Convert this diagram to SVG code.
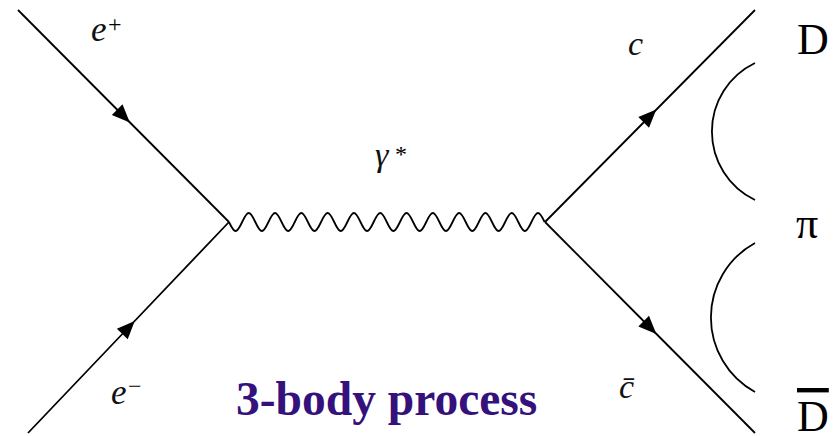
<svg xmlns="http://www.w3.org/2000/svg" width="837" height="436" viewBox="0 0 837 436">
<style>
.ln{fill:none;stroke:#000;stroke-width:1.8}
.it{font-family:"Liberation Serif",serif;font-style:italic;fill:#111}
.rm{font-family:"Liberation Serif",serif;fill:#000}
.title{font-family:"Liberation Serif",serif;font-weight:bold;fill:#35117b}
</style>
<defs>
<marker id="arr" markerUnits="userSpaceOnUse" markerWidth="20" markerHeight="18" viewBox="0 0 20 18" refX="10" refY="9" orient="auto">
<path d="M1,1.5 L19,9 L1,16.5 z" fill="#000"/>
</marker>
</defs>
<rect width="837" height="436" fill="#fff"/>
<g id="connectors">
<path id="e-plus-line" class="ln" d="M18,10 L123.5,116 L229,222" marker-mid="url(#arr)"/>
<path id="e-minus-line" class="ln" d="M28,433 L128.5,327.5 L229,222" marker-mid="url(#arr)"/>
<path id="photon" class="ln" d="M229,222 c2.144,4.61 4.196,9 6.575,9 s4.431,-4.39 6.575,-9 s4.196,-9 6.575,-9 s4.431,4.39 6.575,9 s4.196,9 6.575,9 s4.431,-4.39 6.575,-9 s4.196,-9 6.575,-9 s4.431,4.39 6.575,9 s4.196,9 6.575,9 s4.431,-4.39 6.575,-9 s4.196,-9 6.575,-9 s4.431,4.39 6.575,9 s4.196,9 6.575,9 s4.431,-4.39 6.575,-9 s4.196,-9 6.575,-9 s4.431,4.39 6.575,9 s4.196,9 6.575,9 s4.431,-4.39 6.575,-9 s4.196,-9 6.575,-9 s4.431,4.39 6.575,9 s4.196,9 6.575,9 s4.431,-4.39 6.575,-9 s4.196,-9 6.575,-9 s4.431,4.39 6.575,9 s4.196,9 6.575,9 s4.431,-4.39 6.575,-9 s4.196,-9 6.575,-9 s4.431,4.39 6.575,9 s4.196,9 6.575,9 s4.431,-4.39 6.575,-9 s4.196,-9 6.575,-9 s4.431,4.39 6.575,9 s4.196,9 6.575,9 s4.431,-4.39 6.575,-9 s4.196,-9 6.575,-9 s4.431,4.39 6.575,9 s4.196,9 6.575,9 s4.431,-4.39 6.575,-9 s4.196,-9 6.575,-9 s4.431,4.39 6.575,9 s4.196,9 6.575,9 s4.431,-4.39 6.575,-9 s4.196,-9 6.575,-9 s4.431,4.39 6.575,9 s4.196,9 6.575,9 s4.431,-4.39 6.575,-9 s4.196,-9 6.575,-9 s4.431,4.39 6.575,9"/>
<path id="c-line" class="ln" d="M545,222 L650,116 L755,10" marker-mid="url(#arr)"/>
<path id="cbar-line" class="ln" d="M545,222 L650,327.5 L755,433" marker-mid="url(#arr)"/>
<path id="arc-upper" class="ln" d="M755,63 A76,76 0 0 0 755,200"/>
<path id="arc-lower" class="ln" d="M755,243 A85,85 0 0 0 755,392"/>
</g>
<g id="label-eplus"><text class="it" x="91" y="41" font-size="35">e</text><text class="rm" x="108" y="32" font-size="24" fill="#111">+</text></g>
<g id="label-eminus"><text class="it" x="111" y="404" font-size="35">e</text><text class="rm" x="128" y="394" font-size="24" fill="#111">−</text></g>
<g id="label-gamma"><text class="it" x="375" y="166" font-size="34">γ</text><text class="rm" x="395" y="162" font-size="24" fill="#111">*</text></g>
<g id="label-c"><text class="it" x="628" y="55" font-size="34">c</text></g>
<g id="label-cbar"><text class="it" x="619" y="398" font-size="34">c̄</text></g>
<g id="node-D"><text class="rm" x="797" y="54" font-size="44">D</text></g>
<g id="node-pi"><text class="rm" x="796" y="238" font-size="44">π</text></g>
<g id="node-Dbar"><text class="rm" x="797" y="431" font-size="44" text-decoration="overline">D</text></g>
<g id="title"><text class="title" x="236" y="415" font-size="47.5">3-body process</text></g>
</svg>
